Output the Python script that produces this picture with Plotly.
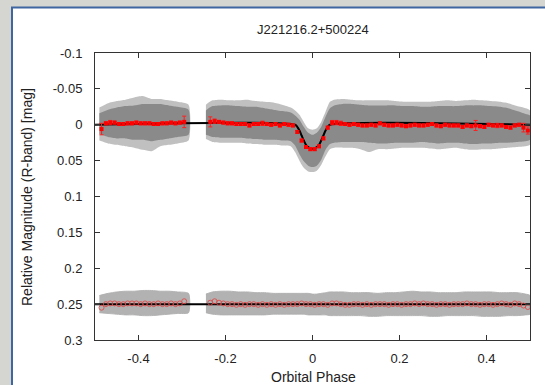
import plotly.graph_objects as go

# ---------------- data ----------------
title_text = "J221216.2+500224"
x_ticks = [-0.4, -0.2, 0, 0.2, 0.4]
x_tick_labels = ["-0.4", "-0.2", "0", "0.2", "0.4"]
y_ticks = [-0.1, -0.05, 0, 0.05, 0.1, 0.15, 0.2, 0.25, 0.3]
y_tick_labels = ["-0.1", "-0.05", "0", "0.05", "0.1", "0.15", "0.2", "0.25", "0.3"]

# gray photometry cloud, segment A (before the gap)
seg_a_phase = [-0.49, -0.47, -0.45, -0.43, -0.41, -0.39, -0.37, -0.35, -0.33, -0.31, -0.285]
seg_a_core_top = [-0.016, -0.021, -0.024, -0.026, -0.027, -0.029, -0.029, -0.029, -0.027, -0.025, -0.021]
seg_a_core_bot = [0.013, 0.017, 0.019, 0.019, 0.021, 0.021, 0.023, 0.021, 0.019, 0.017, 0.014]
seg_a_out_top = [-0.024, -0.030, -0.033, -0.035, -0.038, -0.040, -0.036, -0.036, -0.034, -0.032, -0.028]
seg_a_out_bot = [0.022, 0.026, 0.028, 0.030, 0.032, 0.035, 0.037, 0.030, 0.028, 0.026, 0.022]

# segment B (after the gap, includes eclipse)
seg_b_phase = [-0.245, -0.23, -0.21, -0.19, -0.17, -0.15, -0.13, -0.11, -0.09, -0.07, -0.05, -0.04,
               -0.03, -0.02, -0.01, 0.0, 0.01, 0.02, 0.03, 0.04, 0.05, 0.07, 0.09, 0.11, 0.13, 0.15,
               0.17, 0.19, 0.21, 0.23, 0.25, 0.27, 0.29, 0.31, 0.33, 0.35, 0.37, 0.39, 0.41, 0.43,
               0.45, 0.47, 0.49, 0.50]
seg_b_core_top = [-0.020, -0.026, -0.027, -0.027, -0.026, -0.025, -0.025, -0.023, -0.021, -0.019, -0.017, -0.013,
                  -0.007, 0.003, 0.011, 0.014, 0.011, 0.003, -0.011, -0.023, -0.027, -0.029, -0.029, -0.028, -0.027, -0.027,
                  -0.027, -0.027, -0.026, -0.026, -0.025, -0.025, -0.026, -0.026, -0.026, -0.027, -0.027, -0.027, -0.026, -0.025,
                  -0.023, -0.019, -0.015, -0.013]
seg_b_core_bot = [0.014, 0.017, 0.018, 0.018, 0.018, 0.019, 0.020, 0.021, 0.021, 0.022, 0.023, 0.029,
                  0.041, 0.051, 0.057, 0.059, 0.057, 0.049, 0.035, 0.027, 0.025, 0.024, 0.024, 0.024, 0.025, 0.026,
                  0.026, 0.025, 0.025, 0.025, 0.024, 0.025, 0.026, 0.025, 0.025, 0.026, 0.027, 0.026, 0.026, 0.025,
                  0.025, 0.024, 0.023, 0.021]
seg_b_out_top = [-0.028, -0.034, -0.035, -0.034, -0.034, -0.035, -0.033, -0.032, -0.031, -0.028, -0.024, -0.020,
                 -0.014, -0.004, 0.005, 0.007, 0.005, -0.004, -0.018, -0.032, -0.035, -0.036, -0.035, -0.034, -0.034, -0.034,
                 -0.034, -0.033, -0.032, -0.032, -0.032, -0.032, -0.033, -0.034, -0.033, -0.034, -0.035, -0.034, -0.033, -0.032,
                 -0.030, -0.026, -0.023, -0.020]
seg_b_out_bot = [0.020, 0.024, 0.025, 0.025, 0.025, 0.026, 0.027, 0.028, 0.028, 0.029, 0.030, 0.038,
                 0.050, 0.060, 0.065, 0.066, 0.064, 0.056, 0.044, 0.034, 0.032, 0.032, 0.032, 0.034, 0.038, 0.034,
                 0.034, 0.033, 0.032, 0.032, 0.032, 0.033, 0.034, 0.033, 0.032, 0.034, 0.035, 0.034, 0.034, 0.033,
                 0.032, 0.031, 0.030, 0.028]

# residual cloud around 0.25 (same phase segments)
res_a_top = [0.238, 0.235, 0.233, 0.232, 0.232, 0.231, 0.231, 0.232, 0.232, 0.233, 0.235]
res_a_bot = [0.262, 0.263, 0.264, 0.265, 0.265, 0.266, 0.266, 0.265, 0.264, 0.263, 0.262]
res_b_top = [0.236, 0.233, 0.232, 0.232, 0.233, 0.233, 0.234, 0.234, 0.235, 0.235, 0.235, 0.235,
             0.235, 0.235, 0.235, 0.236, 0.236, 0.235, 0.234, 0.233, 0.233, 0.233, 0.234, 0.234, 0.234, 0.235,
             0.234, 0.234, 0.233, 0.232, 0.233, 0.233, 0.234, 0.234, 0.234, 0.233, 0.233, 0.233, 0.233, 0.234,
             0.234, 0.234, 0.236, 0.238]
res_b_bot = [0.262, 0.264, 0.265, 0.265, 0.265, 0.265, 0.265, 0.265, 0.264, 0.264, 0.264, 0.264,
             0.264, 0.264, 0.265, 0.265, 0.265, 0.265, 0.265, 0.266, 0.266, 0.266, 0.266, 0.266, 0.267, 0.267,
             0.266, 0.266, 0.266, 0.266, 0.266, 0.267, 0.267, 0.266, 0.266, 0.266, 0.266, 0.267, 0.267, 0.267,
             0.266, 0.266, 0.265, 0.264]

# binned (red) light curve
bin_phase = [-0.485, -0.475, -0.465, -0.455, -0.445, -0.435, -0.425, -0.415, -0.405, -0.395,
             -0.385, -0.375, -0.365, -0.355, -0.345, -0.335, -0.325, -0.315, -0.305, -0.295,
             -0.235, -0.225, -0.215, -0.205, -0.195, -0.185, -0.175, -0.165, -0.155, -0.145,
             -0.135, -0.125, -0.115, -0.105, -0.095, -0.085, -0.075, -0.065, -0.055, -0.045,
             -0.035, -0.025, -0.015, -0.005, 0.005, 0.015, 0.025, 0.035,
             0.045, 0.055, 0.065, 0.075, 0.085, 0.095, 0.105, 0.115, 0.125, 0.135,
             0.145, 0.155, 0.165, 0.175, 0.185, 0.195, 0.205, 0.215, 0.225, 0.235,
             0.245, 0.255, 0.265, 0.275, 0.285, 0.295, 0.305, 0.315, 0.325, 0.335,
             0.345, 0.355, 0.365, 0.375, 0.385, 0.395, 0.405, 0.415, 0.425, 0.435,
             0.445, 0.455, 0.465, 0.475, 0.485, 0.495]
bin_mag = [0.006, -0.002, -0.003, -0.003, -0.001, -0.001, -0.002, -0.002, -0.003, -0.002,
           -0.002, -0.002, -0.001, -0.001, -0.002, -0.002, -0.003, -0.002, -0.003, -0.004,
           -0.004, -0.005, -0.004, -0.003, -0.002, -0.002, -0.001, -0.001, -0.001, 0.001,
           -0.001, -0.001, -0.002, -0.001, 0.000, -0.001, 0.001, -0.001, 0.000, 0.001,
           0.010, 0.022, 0.031, 0.034, 0.034, 0.030, 0.019, 0.004,
           -0.003, -0.003, -0.002, -0.001, 0.000, -0.001, 0.000, 0.001, 0.001, 0.000,
           0.001, -0.002, 0.000, 0.001, 0.001, 0.000, 0.001, 0.002, 0.001, 0.000,
           0.001, 0.001, 0.000, -0.001, 0.001, 0.002, 0.000, 0.001, 0.001, 0.001,
           0.003, 0.001, 0.002, 0.001, 0.002, 0.003, 0.000, 0.001, 0.001, 0.001,
           0.003, 0.004, 0.001, 0.000, 0.004, 0.008]
bin_err = [0.008, 0.002, 0.003, 0.002, 0.002, 0.002, 0.002, 0.002, 0.002, 0.002,
           0.002, 0.002, 0.002, 0.002, 0.002, 0.002, 0.002, 0.002, 0.002, 0.008,
           0.007, 0.003, 0.002, 0.002, 0.002, 0.002, 0.002, 0.002, 0.002, 0.002,
           0.002, 0.002, 0.003, 0.002, 0.002, 0.002, 0.002, 0.002, 0.002, 0.002,
           0.002, 0.002, 0.002, 0.002, 0.002, 0.002, 0.002, 0.002,
           0.003, 0.003, 0.003, 0.002, 0.002, 0.002, 0.002, 0.002, 0.002, 0.002,
           0.002, 0.002, 0.002, 0.002, 0.002, 0.002, 0.002, 0.002, 0.002, 0.002,
           0.002, 0.002, 0.002, 0.002, 0.002, 0.002, 0.002, 0.002, 0.002, 0.002,
           0.002, 0.002, 0.002, 0.007, 0.002, 0.002, 0.002, 0.002, 0.003, 0.002,
           0.002, 0.002, 0.002, 0.002, 0.006, 0.005]
res_bin = [0.255, 0.250, 0.249, 0.249, 0.250, 0.250, 0.249, 0.249, 0.249, 0.250,
           0.249, 0.250, 0.250, 0.249, 0.250, 0.250, 0.249, 0.250, 0.249, 0.246,
           0.248, 0.246, 0.248, 0.249, 0.250, 0.250, 0.251, 0.250, 0.251, 0.250,
           0.250, 0.251, 0.250, 0.251, 0.250, 0.251, 0.250, 0.251, 0.250, 0.250,
           0.250, 0.249, 0.250, 0.250, 0.251, 0.250, 0.250, 0.251,
           0.249, 0.249, 0.250, 0.251, 0.251, 0.250, 0.250, 0.251, 0.250, 0.251,
           0.250, 0.250, 0.250, 0.251, 0.250, 0.250, 0.251, 0.250, 0.250, 0.249,
           0.250, 0.249, 0.250, 0.250, 0.251, 0.250, 0.250, 0.251, 0.250, 0.250,
           0.250, 0.249, 0.250, 0.250, 0.251, 0.250, 0.250, 0.251, 0.250, 0.249,
           0.250, 0.251, 0.249, 0.250, 0.252, 0.254]

# eclipse model
model_phase = [-0.5, -0.04, -0.035, -0.03, -0.025, -0.02, -0.015, -0.01, -0.005, 0.0,
               0.005, 0.01, 0.015, 0.02, 0.025, 0.03, 0.035, 0.04, 0.5]
model_mag = [0.0, 0.0, 0.003, 0.008, 0.015, 0.022, 0.028, 0.031, 0.033, 0.0335,
             0.033, 0.031, 0.028, 0.022, 0.015, 0.008, 0.003, 0.0, 0.0]
residual_level = 0.25

# ---------------- figure ----------------
fig = go.Figure()

def band(px, top, bot, color, line_color="rgba(0,0,0,0)"):
    fig.add_trace(go.Scatter(x=list(px) + list(px)[::-1], y=list(top) + list(bot)[::-1],
                             fill="toself", fillcolor=color, mode="lines",
                             line=dict(color=line_color, width=1, shape="spline", smoothing=0.6),
                             hoverinfo="skip", showlegend=False))

# outer (error-bar) zone and dense point core
for ph, ot, ob, ct, cb in [(seg_a_phase, seg_a_out_top, seg_a_out_bot, seg_a_core_top, seg_a_core_bot),
                           (seg_b_phase, seg_b_out_top, seg_b_out_bot, seg_b_core_top, seg_b_core_bot)]:
    band(ph, ot, ob, "rgba(185,185,185,0.9)")
    band(ph, ct, cb, "rgb(138,138,138)")

# residual cloud (open circles, rendered as a textured band)
for ph, rt, rb in [(seg_a_phase, res_a_top, res_a_bot), (seg_b_phase, res_b_top, res_b_bot)]:
    band(ph, rt, rb, "rgba(165,165,165,0.85)", "rgba(175,175,175,0.9)")

# model and residual zero line
fig.add_trace(go.Scatter(x=model_phase, y=model_mag, mode="lines",
                         line=dict(color="black", width=2, shape="spline", smoothing=0.8),
                         hoverinfo="skip", showlegend=False))
fig.add_trace(go.Scatter(x=[model_phase[0], model_phase[-1]], y=[residual_level, residual_level],
                         mode="lines", line=dict(color="black", width=2),
                         hoverinfo="skip", showlegend=False))

# binned points
fig.add_trace(go.Scatter(x=bin_phase, y=bin_mag, mode="markers",
                         marker=dict(symbol="square", size=4, color="#ff0000"),
                         error_y=dict(type="data", array=bin_err, color="#ff2020", thickness=1, width=2),
                         hoverinfo="skip", showlegend=False))
fig.add_trace(go.Scatter(x=bin_phase, y=res_bin, mode="markers",
                         marker=dict(symbol="circle-open", size=5, color="rgba(225,70,70,0.85)"),
                         hoverinfo="skip", showlegend=False))

# page geometry
W, H = 545, 385
ml, mr, mt, mb = 95, 15, 53, 45
pw, ph_ = W - ml - mr, H - mt - mb

def px2x(p):
    return (p - ml) / pw

def py2y(p):
    return (H - mb - p) / ph_

shapes = [
    dict(type="rect", xref="paper", yref="paper", x0=px2x(0), x1=px2x(11), y0=py2y(H), y1=py2y(0),
         fillcolor="#d5d5d1", line=dict(width=0), layer="below"),
    dict(type="rect", xref="paper", yref="paper", x0=px2x(0), x1=px2x(W), y0=py2y(7), y1=py2y(0),
         fillcolor="#d5d5d1", line=dict(width=0), layer="below"),
    dict(type="line", xref="paper", yref="paper", x0=px2x(12), x1=px2x(12), y0=py2y(H), y1=py2y(7),
         line=dict(color="#3f66a0", width=2), layer="below"),
    dict(type="line", xref="paper", yref="paper", x0=px2x(11), x1=px2x(W), y0=py2y(7.5), y1=py2y(7.5),
         line=dict(color="#3f66a0", width=2), layer="below"),
]

font_family = "Liberation Sans, Arial, sans-serif"
fig.update_layout(
    width=W, height=H, margin=dict(l=ml, r=mr, t=mt, b=mb, autoexpand=False),
    paper_bgcolor="white", plot_bgcolor="white",
    font=dict(family=font_family, size=13, color="#222"),
    shapes=shapes,
    annotations=[
        dict(text=title_text, xref="paper", yref="paper", x=px2x(313), y=py2y(30),
             showarrow=False, font=dict(size=13, color="#222"), xanchor="center", yanchor="middle"),
        dict(text="Orbital Phase", xref="paper", yref="paper", x=px2x(313), y=py2y(377),
             showarrow=False, font=dict(size=14, color="#222"), xanchor="center", yanchor="middle"),
        dict(text="Relative Magnitude (R-band) [mag]", xref="paper", yref="paper", x=px2x(27), y=py2y(197),
             showarrow=False, textangle=-90, font=dict(size=14, color="#222"), xanchor="center", yanchor="middle"),
    ],
    xaxis=dict(range=[-0.5, 0.5], tickvals=x_ticks, ticktext=x_tick_labels, ticks="inside", ticklen=5,
               tickcolor="#333", showline=True, linecolor="#333", linewidth=1, mirror="ticks",
               showgrid=False, zeroline=False, ticklabelstandoff=6, tickfont=dict(size=13)),
    yaxis=dict(range=[0.3, -0.1], tickvals=y_ticks, ticktext=y_tick_labels, ticks="inside", ticklen=5,
               tickcolor="#333", showline=True, linecolor="#333", linewidth=1, mirror="ticks",
               showgrid=False, zeroline=False, ticklabelstandoff=9, tickfont=dict(size=13)),
)

fig.write_html("out.html")
